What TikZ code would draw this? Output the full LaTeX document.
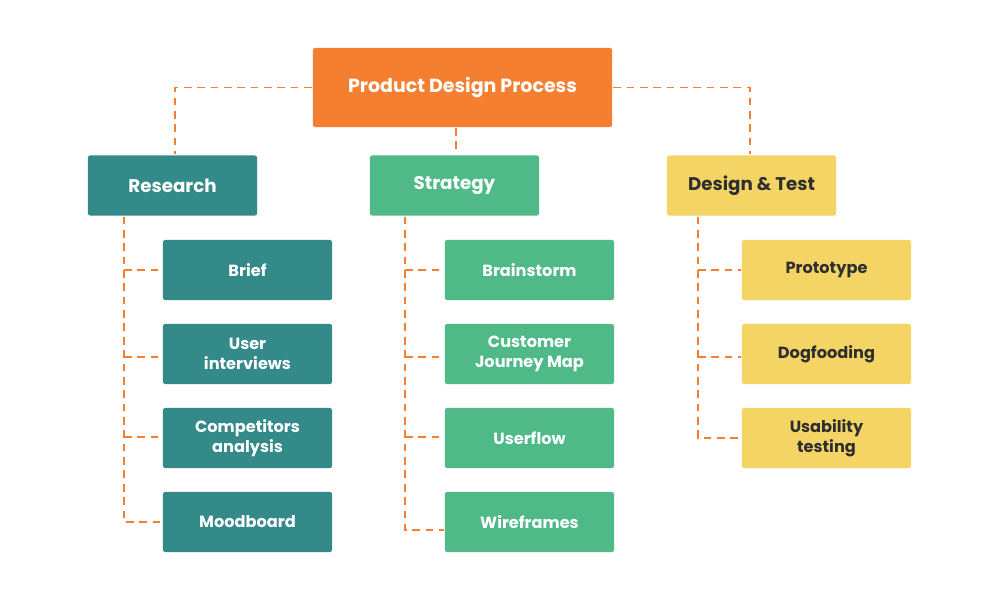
\documentclass[tikz,border=0pt]{standalone}
\usepackage{fontspec}
\setmainfont{Poppins}
\usepackage{tikz}
\usetikzlibrary{positioning}
\definecolor{rootorange}{HTML}{F47F30}
\definecolor{researchteal}{HTML}{338A88}
\definecolor{strategygreen}{HTML}{4FBA87}
\definecolor{designyellow}{HTML}{F5D466}
\definecolor{textdark}{HTML}{2E2E2E}

\begin{document}
\begin{tikzpicture}[x=0.01cm, y=-0.01cm, semithick,
        box/.style ={rectangle, rounded corners=0.6pt, align=center, font=\fontsize{4.6}{5.6}\selectfont\bfseries,
        minimum width =1.69 cm, minimum height =0.6 cm, inner sep=0pt},
        root/.style ={box, fill=rootorange, text=white, minimum width =2.99 cm, minimum height =0.79 cm, font=\fontsize{5.4}{6.4}\selectfont\bfseries},
        head/.style ={box, font=\fontsize{5.2}{6.2}\selectfont\bfseries},
        teal/.style ={fill=researchteal, text=white},
        green/.style ={fill=strategygreen, text=white},
        yellow/.style ={fill=designyellow, text=textdark},
        link/.style ={draw=rootorange, dashed, dash pattern=on 2.2pt off 1.6pt, line width=0.35pt}]

        \useasboundingbox (0,0) rectangle (1000,600);

        %raiz y ramas
        \node[root] (pdp) at (462.5, 87.5) {Product Design Process};
        \node[head, teal] (res) at (172.5, 185.5) {Research};
        \node[head, green] (str) at (454.5, 185.5) {Strategy};
        \node[head, yellow] (dt) at (751.5, 185.5) {Design \& Test};

        %hojas
        \node[box, teal] (brief) at (247.5, 270) {Brief};
        \node[box, teal] (inter) at (247.5, 354) {User\\interviews};
        \node[box, teal] (comp) at (247.5, 438) {Competitors\\analysis};
        \node[box, teal] (mood) at (247.5, 522) {Moodboard};
        \node[box, green] (brain) at (529.5, 270) {Brainstorm};
        \node[box, green] (cjm) at (529.5, 354) {Customer\\Journey Map};
        \node[box, green] (uflow) at (529.5, 438) {Userflow};
        \node[box, green] (wire) at (529.5, 522) {Wireframes};
        \node[box, yellow] (proto) at (826.5, 270) {Prototype};
        \node[box, yellow] (dog) at (826.5, 354) {Dogfooding};
        \node[box, yellow] (usab) at (826.5, 438) {Usability\\testing};

        \path[link] (pdp.west) -| (res.north -| 175, 0);
        \path[link] (pdp.east) -| (dt.north -| 750, 0);
        \path[link] (pdp.south -| 456, 0) -- (str.north -| 456, 0);

        \path[link] (res.south -| 124, 0) |- (mood.west);
        \path[link] (124, 270) -- (brief.west);
        \path[link] (124, 357) -- (inter.west |- 0, 357);
        \path[link] (124, 437) -- (comp.west |- 0, 437);

        \path[link] (str.south -| 405, 0) |- (wire.west |- 0, 530);
        \path[link] (405, 270) -- (brain.west);
        \path[link] (405, 357) -- (cjm.west |- 0, 357);
        \path[link] (405, 437) -- (uflow.west |- 0, 437);

        \path[link] (dt.south -| 698, 0) |- (usab.west);
        \path[link] (698, 270) -- (proto.west);
        \path[link] (698, 357) -- (dog.west |- 0, 357);
\end{tikzpicture}
\end{document}
